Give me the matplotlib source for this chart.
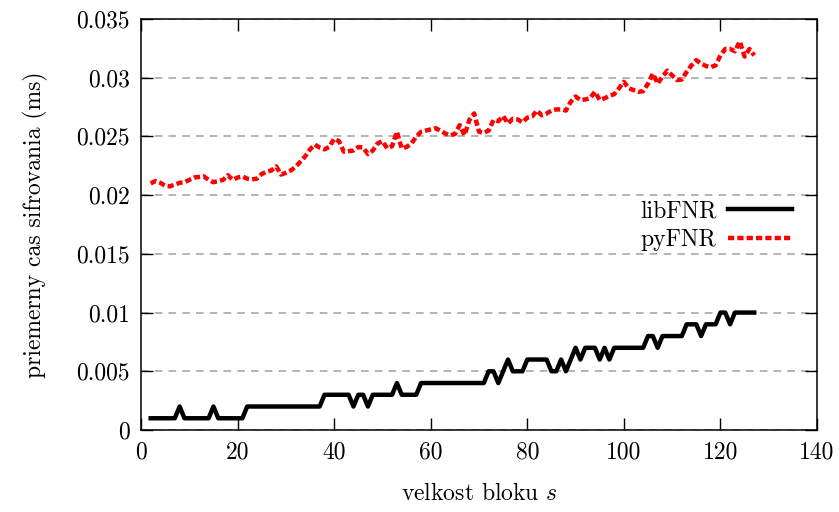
import matplotlib
matplotlib.use("Agg")
import matplotlib.pyplot as plt

# block size s
block_size = list(range(2, 128))

# libFNR, average encryption time in units of 0.001 ms
lib_fnr = [1, 1, 1, 1, 1, 1, 2, 1, 1, 1, 1, 1, 1, 2, 1, 1, 1, 1, 1, 1,   # 2..21
           2, 2, 2, 2, 2, 2, 2, 2, 2, 2, 2, 2, 2, 2, 2, 2,               # 22..37
           3, 3, 3, 3, 3, 3, 2, 3, 3, 2, 3, 3, 3, 3, 3, 4,               # 38..53
           3, 3, 3, 3, 4, 4, 4, 4, 4, 4, 4, 4, 4, 4, 4, 4, 4, 4,         # 54..71
           5, 5, 4, 5, 6, 5, 5, 5, 6, 6, 6, 6, 6, 5, 5, 6, 5, 6, 7, 6,   # 72..91
           7, 7, 7, 6, 7, 6, 7, 7, 7, 7, 7, 7, 7, 8, 8, 7, 8, 8, 8, 8,   # 92..111
           8, 9, 9, 9, 8, 9, 9, 9, 10, 10, 9, 10, 10, 10, 10, 10]       # 112..127

# pyFNR, average encryption time in units of 0.001 ms
py_fnr = [21.0, 21.2, 21.05, 20.8, 20.75, 20.9, 21.05, 21.1, 21.3, 21.5,   # 2..11
          21.55, 21.6, 21.3, 21.1, 21.2, 21.3, 21.7, 21.3, 21.5, 21.6,     # 12..21
          21.4, 21.35, 21.4, 21.8, 22.0, 22.1, 22.45, 21.75, 21.9, 22.1,   # 22..31
          22.4, 22.85, 23.3, 23.9, 24.3, 24.05, 23.9, 24.1, 24.8, 24.6,    # 32..41
          23.7, 23.75, 23.8, 24.1, 24.05, 23.5, 23.8, 24.4, 24.6, 23.98,   # 42..51
          24.17, 25.4, 23.98, 24.1, 24.4, 24.97, 25.4, 25.5, 25.6, 25.7,   # 52..61
          25.5, 25.25, 25.1, 25.2, 25.96, 25.1, 26.4, 26.96, 25.4, 25.3,   # 62..71
          25.5, 26.4, 26.3, 26.73, 26.1, 26.5, 26.45, 26.2, 26.6, 26.7,    # 72..81
          27.2, 26.8, 26.95, 27.2, 27.3, 27.3, 27.2, 27.95, 28.4, 28.1,    # 82..91
          28.15, 28.25, 28.8, 28.1, 28.25, 28.45, 28.6, 29.1, 29.65, 29.1, # 92..101
          28.95, 28.8, 28.85, 29.5, 30.35, 29.5, 30.1, 30.6, 30.2, 29.8,   # 102..111
          29.85, 30.5, 31.05, 31.5, 31.2, 31.0, 30.9, 31.05, 31.9, 32.45,  # 112..121
          32.45, 32.25, 33.1, 31.8, 32.45, 31.9]                           # 122..127

x_ticks = [0, 20, 40, 60, 80, 100, 120, 140]
y_ticks = [0, 0.005, 0.01, 0.015, 0.02, 0.025, 0.03, 0.035]
y_tick_labels = ["0", "0.005", "0.01", "0.015", "0.02", "0.025", "0.03", "0.035"]

plt.rcParams['font.family'] = 'cmr10'
plt.rcParams['mathtext.fontset'] = 'cm'
plt.rcParams['axes.formatter.use_mathtext'] = True
font_size = 17

fig = plt.figure(figsize=(8.39, 5.12), dpi=100)
ax = fig.add_axes([141 / 839, 1 - 430 / 512, (817 - 141) / 839, (430 - 19) / 512])

ax.plot(block_size, [v / 1000 for v in lib_fnr], color='black', linewidth=3.2,
        solid_joinstyle='round', label='libFNR', zorder=3)
ax.plot(block_size, [v / 1000 for v in py_fnr], color='#ff0000', linewidth=3.2,
        dashes=(1.4, 0.7), label='pyFNR', zorder=3)

ax.set_xlim(0, 140)
ax.set_ylim(0, 0.035)
ax.set_xticks(x_ticks)
ax.set_xticklabels([str(t) for t in x_ticks])
ax.set_yticks(y_ticks)
ax.set_yticklabels(y_tick_labels)
ax.tick_params(direction='in', length=8.5, width=1, top=True, right=True,
               labelsize=font_size, pad=8)

ax.yaxis.grid(True, color='#a0a0a0', linestyle=(0, (5, 4)), linewidth=1.1)
ax.set_axisbelow(True)
for spine in ax.spines.values():
    spine.set_linewidth(1.1)

ax.set_xlabel('velkost bloku $s$', fontsize=font_size, labelpad=14)
ax.set_ylabel('priemerny cas sifrovania (ms)', fontsize=font_size, labelpad=20)

ax.legend(loc='upper right', bbox_to_anchor=(792 / 839, 1 - 200 / 512),
          bbox_transform=fig.transFigure, frameon=False, markerfirst=False,
          fontsize=font_size, handlelength=2.7, handletextpad=0.5,
          labelspacing=0.3, borderpad=0, borderaxespad=0)

fig.savefig('out.png', dpi=100)
